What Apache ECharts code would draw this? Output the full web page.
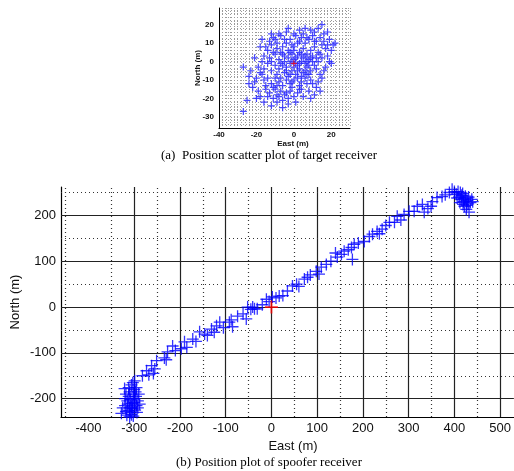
<!DOCTYPE html>
<html>
<head>
<meta charset="utf-8">
<script src="https://cdn.jsdelivr.net/npm/echarts@6/dist/echarts.min.js"></script>
<style>
  html, body { margin: 0; padding: 0; background: #fff; }
  #main { width: 514px; height: 471px; }
</style>
</head>
<body>
<div id="main"></div>
<script>
// (a) target receiver scatter, East/North in m
var targetPts = [
  [-27,-27],[-25,-21],[-27,-3],[-24,-8],[-21,-11],[-19,-16],[-18,-19],[-12,-24],[-18,8],[-16,-4],
  [-17,-7],[-15,-13],[-14,-9],[-13,-17],[-12,-12],[-11,-20],[-10,-15],[-9,-22],[-8,-19],[-6,-21],
  [-4,-17],[-3,-20],[-1,-14],[2,-17],[4,-15],[7,-12],[9,-10],[12,-14],[14,-7],[16,-5],
  [20,-1],[18,3],[21,9],[19,12],[16,15],[15,20],[13,18],[11,16],[9,17],[7,13],
  [5,15],[3,11],[1,14],[-1,9],[-3,18],[-5,12],[-7,14],[-8,15],[-10,12],[-12,9],
  [-14,6],[-16,3],[-13,2],[-11,5],[-9,7],[-7,5],[-5,3],[-3,6],[-1,4],[1,2],
  [3,5],[5,7],[7,4],[9,6],[11,8],[13,5],[15,9],[17,7],[12,11],[10,3],
  [8,1],[6,-1],[4,0],[2,-2],[0,1],[-2,-1],[-4,-3],[-6,-2],[-8,-4],[-10,-2],
  [-12,-5],[-14,-1],[-9,-7],[-7,-9],[-5,-6],[-3,-8],[-1,-5],[1,-7],[3,-4],[5,-6],
  [7,-3],[9,-5],[11,-2],[13,0],[15,2],[6,-9],[4,-11],[2,-9],[0,-10],[-2,-12],
  [-4,-10],[-6,-13],[-8,-11],[-10,-9],[-11,-14],[-7,-16],[-5,-18],[-2,-16],[0,-19],[3,-13],
  [8,-7],[10,-12],[12,-4],[14,4],[16,11],[18,9],[20,6],[19,0],[17,-3],[-6,8],
  [-4,10],[-2,12],[0,8],[2,10],[4,13],[6,10],[8,12],[10,14],[-9,10],[-11,13],
  [-13,11],[-15,8],[-17,0],[-18,-6],[-16,-10],[-19,-3],[-20,-9],[-22,-14],[-23,-5],[-14,-19],
  [-16,-22],[-9,-18],[-3,-23],[1,-22],[5,-19],[8,-16],[11,-18],[13,-11],[15,-9],[-1,0],
  [1,-1],[2,3],[-3,2],[-5,0],[3,-1],[5,2],[7,0],[-2,5],[0,6],[4,4],
  [-6,4],[-8,1],[-4,-5],[-2,-7],[0,-3],[2,-5],[4,-8],[6,-5],[8,-2],[10,0],
  [12,2],[6,3],[-10,4],[-12,0],[-7,-1],[-9,-13],[-1,-11],[3,-15],[7,-7],[9,2],
  [11,11],[14,13],[-4,16],[0,15],[3,17],[-12,15],[6,18],[-15,-15],[-20,-20],[-24,-12],
  [22,10],[18,16],[-6,-25],[9,-20],[14,-16],[-17,12],[-21,2]
];
var targetTrue = [[0,-1]];

// (b) spoofer receiver track
var spooferPts = [
  [-305,-210],[-310,-220],[-300,-200],[-315,-205],[-295,-215],[-308,-230],[-320,-215],[-302,-190],[-312,-195],[-298,-225],
  [-318,-228],[-306,-235],[-292,-205],[-325,-220],[-300,-180],[-310,-185],[-314,-212],[-296,-195],[-304,-222],[-320,-200],
  [-290,-190],[-308,-202],[-302,-238],[-316,-236],[-294,-230],[-312,-176],[-321,-178],[-295,-176],[-299,-161],[-306,-170],
  [-288,-212],[-328,-232],[-310,-240],[-300,-208],[-305,-218],[-297,-185],[-318,-190],[-303,-165],[-292,-220],[-311,-226],
  [-282,-150],[-273,-139],[-268,-148],[-262,-128],[-258,-145],[-251,-117],[-255,-135],[-234,-111],[-227,-98],[-230,-115],
  [-216,-85],[-210,-95],[-197,-91],[-190,-76],[-185,-88],[-172,-70],[-165,-75],[-157,-54],[-146,-59],[-140,-62],
  [-131,-48],[-125,-55],[-120,-41],[-113,-33],[-105,-45],[-92,-33],[-85,-43],[-88,-28],[-74,-20],[-55,-26],
  [-62,-15],[-52,0],[-41,0],[-45,-5],[-31,-4],[-37,-4],[-20,5],[-11,17],[-5,12],[2,22],
  [10,20],[17,24],[25,25],[35,35],[46,46],[55,50],[60,45],[72,61],[79,65],[85,70],
  [98,78],[104,72],[109,87],[120,93],[130,100],[144,109],[140,118],[153,115],[159,122],[177,104],
  [175,130],[168,125],[181,137],[190,140],[203,143],[214,154],[221,159],[231,165],[242,170],[236,160],
  [250,178],[258,185],[269,185],[275,198],[283,190],[290,202],[301,209],[312,209],[319,220],[330,224],
  [334,207],[342,215],[349,220],[352,230],[362,239],[373,241],[380,245],[389,250],[395,257],
  [404,246],[410,240],[415,235],[420,230],[425,238],[430,225],[418,248],[412,228],[422,220],[428,232],
  [435,228],[426,213],[432,207],[408,252],[416,244],[424,242],[438,235],[406,238],[419,224],[431,240],
  [413,250],[427,222],[440,230],[400,252],[421,236]
];
var spooferTrue = [[0,0]];

var topXTicks = [-40, -20, 0, 20];
var topYTicks = [-30, -20, -10, 0, 10, 20];
var botXTicks = [-400, -300, -200, -100, 0, 100, 200, 300, 400, 500];
var botYTicks = [-200, -100, 0, 100, 200];
var botSolidX = [-300, -200, -100, 0, 100, 200, 300, 400, 500];
var botDotX = [-450, -350, -250, -150, -50, 50, 150, 250, 350, 450];
var botSolidY = [-200, -100, 0, 100, 200];
var botDotY = [-150, -50, 50, 150, 250];

var plus = 'path://M0,5L10,5M5,0L5,10';
var sans = 'Liberation Sans';
var serif = 'Liberation Serif';

function pick(list) {
  return function (v) { return list.indexOf(v) >= 0 ? String(v) : ''; };
}

var gridLines = [];
botSolidX.forEach(function (v) { gridLines.push({ xAxis: v, lineStyle: { type: 'solid', color: '#222', width: 1.2 } }); });
botDotX.forEach(function (v) { gridLines.push({ xAxis: v, lineStyle: { type: [1, 3], color: '#333', width: 1.2 } }); });
botSolidY.forEach(function (v) { gridLines.push({ yAxis: v, lineStyle: { type: 'solid', color: '#222', width: 1.2 } }); });
botDotY.forEach(function (v) { gridLines.push({ yAxis: v, lineStyle: { type: [1, 3], color: '#333', width: 1.2 } }); });

var chart = echarts.init(document.getElementById('main'), null, { renderer: 'canvas' });

var option = {
  animation: false,
  backgroundColor: '#fff',
  grid: [
    { left: 219, top: 8, width: 131, height: 120 },
    { left: 61, top: 187, width: 453, height: 230 }
  ],
  xAxis: [
    {
      gridIndex: 0, type: 'value', min: -40, max: 30, interval: 2,
      axisLine: { show: true, onZero: false, lineStyle: { color: '#000', width: 1 } },
      axisTick: { show: false },
      axisLabel: { formatter: pick(topXTicks), fontFamily: sans, fontSize: 8, fontWeight: 'bold', color: '#111', margin: 3 },
      splitLine: { show: true, lineStyle: { type: [1, 2], color: '#9a9a9a', width: 1 } }
    },
    {
      gridIndex: 1, type: 'value', min: -460, max: 530, interval: 20,
      axisLine: { show: true, onZero: false, lineStyle: { color: '#000', width: 1.2 } },
      axisTick: { show: false },
      axisLabel: { formatter: pick(botXTicks), fontFamily: sans, fontSize: 13, color: '#111', margin: 5, showMaxLabel: false },
      splitLine: { show: false }
    }
  ],
  yAxis: [
    {
      gridIndex: 0, type: 'value', min: -36, max: 29, interval: 2,
      axisLine: { show: true, onZero: false, lineStyle: { color: '#000', width: 1 } },
      axisTick: { show: false },
      axisLabel: { formatter: pick(topYTicks), fontFamily: sans, fontSize: 8, fontWeight: 'bold', color: '#111', margin: 5 },
      splitLine: { show: true, lineStyle: { type: [1, 2], color: '#9a9a9a', width: 1 } }
    },
    {
      gridIndex: 1, type: 'value', min: -240, max: 262, interval: 20,
      axisLine: { show: true, onZero: false, lineStyle: { color: '#000', width: 1.2 } },
      axisTick: { show: false },
      axisLabel: { formatter: pick(botYTicks), fontFamily: sans, fontSize: 13, color: '#111', margin: 5 },
      splitLine: { show: false }
    }
  ],
  series: [
    {
      type: 'scatter', xAxisIndex: 0, yAxisIndex: 0, z: 3,
      symbol: plus, symbolSize: 7,
      itemStyle: { color: 'transparent', borderColor: '#2a2aff', borderWidth: 1.2, opacity: 0.85 },
      data: targetPts
    },
    {
      type: 'scatter', xAxisIndex: 0, yAxisIndex: 0, z: 4,
      symbol: plus, symbolSize: 6,
      itemStyle: { color: 'transparent', borderColor: '#ff0000', borderWidth: 1 },
      data: targetTrue
    },
    {
      type: 'scatter', xAxisIndex: 1, yAxisIndex: 1, z: 3,
      symbol: plus, symbolSize: 12,
      itemStyle: { color: 'transparent', borderColor: '#0000ff', borderWidth: 1.3 },
      data: spooferPts,
      markLine: {
        silent: true, symbol: 'none', z: 1,
        label: { show: false },
        data: gridLines
      }
    },
    {
      type: 'scatter', xAxisIndex: 1, yAxisIndex: 1, z: 4,
      symbol: plus, symbolSize: 13,
      itemStyle: { color: 'transparent', borderColor: '#ff0000', borderWidth: 1.8 },
      data: spooferTrue
    }
  ],
  graphic: [
    { type: 'text', x: 198, y: 68, rotation: Math.PI / 2, style: { text: 'North (m)', fontFamily: sans, fontSize: 8, fontWeight: 'bold', fill: '#111', align: 'center', verticalAlign: 'middle' } },
    { type: 'text', x: 293, y: 144, style: { text: 'East (m)', fontFamily: sans, fontSize: 8, fontWeight: 'bold', fill: '#111', align: 'center', verticalAlign: 'middle' } },
    { type: 'text', x: 269, y: 156, style: { text: '(a)  Position scatter plot of target receiver', fontFamily: serif, fontSize: 13, fill: '#000', align: 'center', verticalAlign: 'middle' } },
    { type: 'text', x: 15, y: 302, rotation: Math.PI / 2, style: { text: 'North (m)', fontFamily: sans, fontSize: 13, fill: '#111', align: 'center', verticalAlign: 'middle' } },
    { type: 'text', x: 293, y: 446, style: { text: 'East (m)', fontFamily: sans, fontSize: 13, fill: '#111', align: 'center', verticalAlign: 'middle' } },
    { type: 'text', x: 269, y: 463, style: { text: '(b) Position plot of spoofer receiver', fontFamily: serif, fontSize: 13, fill: '#000', align: 'center', verticalAlign: 'middle' } }
  ]
};

chart.setOption(option);
</script>
</body>
</html>
